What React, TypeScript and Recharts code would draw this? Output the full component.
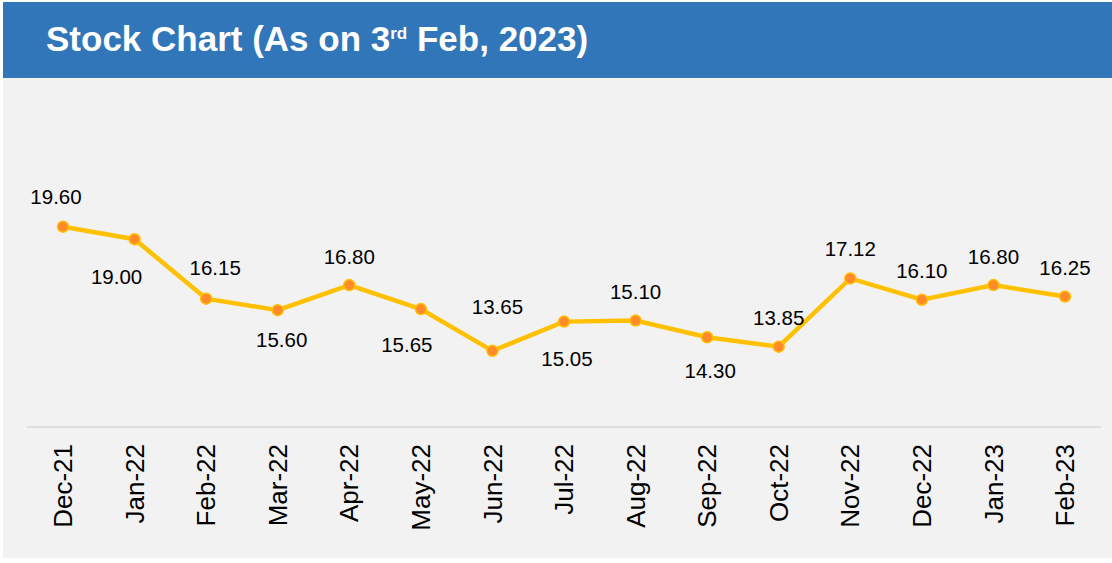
import React from 'react';
import { LineChart, Line, XAxis, YAxis, LabelList } from 'recharts';

const months = ['Dec-21', 'Jan-22', 'Feb-22', 'Mar-22', 'Apr-22', 'May-22', 'Jun-22', 'Jul-22', 'Aug-22', 'Sep-22', 'Oct-22', 'Nov-22', 'Dec-22', 'Jan-23', 'Feb-23'];
const prices = [19.6, 19.0, 16.15, 15.6, 16.8, 15.65, 13.65, 15.05, 15.1, 14.3, 13.85, 17.12, 16.1, 16.8, 16.25];
const yDomain = [10, 25];

// label placement (styling only): [dx, dy] relative to the point
const labelOffsets: [number, number][] = [
  [-7, -30], [-18, 37], [9, -31], [4, 29], [0, -29], [-14, 35], [5, -44], [3, 37],
  [0, -29], [3, 33], [0, -29], [0, -30], [0, -29], [0, -29], [0, -29],
];

const data = months.map((m, i) => ({ month: m, price: prices[i] }));

const FONT = '"Liberation Sans", Arial, sans-serif';

const Tick = (props: any) => {
  const { x, y, payload } = props;
  const py = y + 9;
  return (
    <text
      x={x}
      y={py}
      transform={`rotate(-90 ${x} ${py})`}
      textAnchor="end"
      dy="0.35em"
      fontSize={26}
      fontFamily={FONT}
      fill="#000"
    >
      {payload.value}
    </text>
  );
};

const ValueLabel = (props: any) => {
  const { x, y, value, index } = props;
  const [dx, dy] = labelOffsets[index] || [0, -29];
  return (
    <text
      x={x + dx}
      y={y + dy}
      textAnchor="middle"
      dominantBaseline="central"
      fontSize={20.5}
      fontFamily={FONT}
      fill="#000"
    >
      {Number(value).toFixed(2)}
    </text>
  );
};

export default function App() {
  return (
    <div style={{ position: 'absolute', left: 0, top: 0, width: 1112, height: 563, background: '#fff', fontFamily: FONT, overflow: 'hidden' }}>
      <div style={{ position: 'absolute', left: 3, top: 78, width: 1109, height: 480, background: '#F2F2F2' }} />
      <svg width={1112} height={80} style={{ position: 'absolute', left: 0, top: 0 }}>
        <rect x={3} y={2} width={1109} height={76} fill="#3176B8" />
        <text x={46} y={51} fill="#fff" fontSize={35} fontWeight="bold" fontFamily={FONT}>
          Stock Chart (As on 3
          <tspan fontSize={17} dy={-12}>rd</tspan>
          <tspan dy={12}> Feb, 2023)</tspan>
        </text>
      </svg>
      <div style={{ position: 'absolute', left: 0, top: 0 }}>
        <LineChart width={1112} height={563} data={data} margin={{ top: 114, right: 11, left: 27, bottom: 36 }}>
          <XAxis
            dataKey="month"
            interval={0}
            height={100}
            padding={{ left: 36, right: 36 }}
            tickLine={false}
            axisLine={{ stroke: '#D9D9D9', strokeWidth: 1.5 }}
            tick={<Tick />}
          />
          <YAxis hide domain={yDomain} type="number" />
          <Line
            type="linear"
            dataKey="price"
            stroke="#FFC000"
            strokeWidth={4.5}
            dot={{ r: 5.5, fill: '#FF8A2A', stroke: '#FFC000', strokeWidth: 1.5 }}
            activeDot={false}
            isAnimationActive={false}
          >
            <LabelList dataKey="price" content={<ValueLabel />} />
          </Line>
        </LineChart>
      </div>
    </div>
  );
}
